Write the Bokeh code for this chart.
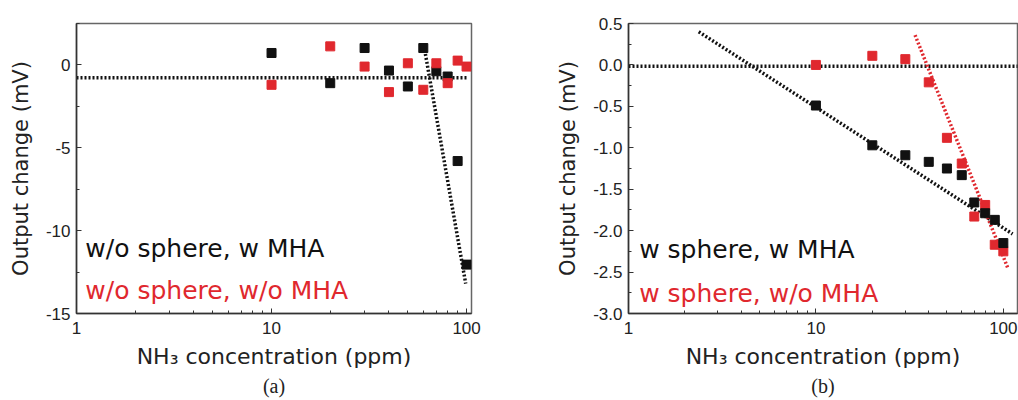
from bokeh.plotting import figure
from bokeh.layouts import row
from bokeh.models import FixedTicker, PrintfTickFormatter, Title, Label
from bokeh.embed import file_html
from bokeh.resources import INLINE

# ---------------- data ----------------
conc = [10, 20, 30, 40, 50, 60, 70, 80, 90, 100]

# panel (a)
a_black = [0.72, -1.10, 1.02, -0.34, -1.30, 1.02, -0.38, -0.70, -5.80, -12.05]
a_red = [-1.20, 1.12, -0.10, -1.64, 0.10, -1.50, 0.10, -1.10, 0.26, -0.10]
a_flat_x = [1, 100]
a_flat_y = [-0.78, -0.78]
a_fit_x = [61, 99]
a_fit_y = [0.9, -13.2]

# panel (b)
b_black = [-0.49, -0.97, -1.09, -1.17, -1.25, -1.33, -1.66, -1.79, -1.87, -2.15]
b_red = [0.00, 0.11, 0.07, -0.21, -0.88, -1.19, -1.83, -1.69, -2.17, -2.25]
b_flat_x = [1, 120]
b_flat_y = [-0.015, -0.015]
b_fit_black_x = [2.37, 112]
b_fit_black_y = [0.40, -2.04]
b_fit_red_x = [33.8, 105.6]
b_fit_red_y = [0.36, -2.45]

x_ticks = [1, 10, 100]
x_minor = [2, 3, 4, 5, 6, 7, 8, 9, 20, 30, 40, 50, 60, 70, 80, 90]
a_y_ticks = [-15, -10, -5, 0]
a_y_minor = [-12.5, -7.5, -2.5, 2.5]
b_y_ticks = [-3.0, -2.5, -2.0, -1.5, -1.0, -0.5, 0.0, 0.5]
b_y_minor = [-2.75, -2.25, -1.75, -1.25, -0.75, -0.25, 0.25]

BLACK = "#111111"
RED = "#e0282e"
LEG_FONT = "DejaVu Sans"
TICK_FONT = "Liberation Sans"


def make_fig(width, xr, yr, bl, br, yticks, yminor, yfmt):
    p = figure(width=width, height=400, x_axis_type="log", x_range=xr, y_range=yr,
               output_backend="svg", toolbar_location=None,
               min_border_left=bl, min_border_right=br, min_border_top=23,
               min_border_bottom=87)
    p.xgrid.visible = False
    p.ygrid.visible = False
    p.outline_line_color = "#666666"
    p.outline_line_width = 1.5
    p.background_fill_color = "white"
    p.border_fill_color = "white"
    p.xaxis.ticker = FixedTicker(ticks=x_ticks, minor_ticks=x_minor)
    p.xaxis.formatter = PrintfTickFormatter(format="%d")
    p.yaxis.ticker = FixedTicker(ticks=yticks, minor_ticks=yminor)
    p.yaxis.formatter = PrintfTickFormatter(format=yfmt)
    for ax in (p.xaxis, p.yaxis):
        ax.major_tick_in = 5
        ax.major_tick_out = 0
        ax.minor_tick_in = 3
        ax.minor_tick_out = 0
        ax.axis_line_color = "#333333"
        ax.axis_line_width = 1.5
        ax.major_tick_line_color = "#333333"
        ax.minor_tick_line_color = "#333333"
        ax.major_label_text_font = TICK_FONT
        ax.major_label_text_font_size = "17px"
        ax.major_label_text_color = "#222222"
        ax.axis_label_text_font = LEG_FONT
        ax.axis_label_text_font_style = "normal"
        ax.axis_label_text_color = "#222222"
    p.xaxis.major_label_standoff = 8
    p.yaxis.major_label_standoff = 6
    p.xaxis.axis_label = "NH₃ concentration (ppm)"
    p.xaxis.axis_label_text_font_size = "22px"
    p.xaxis.axis_label_standoff = 7
    p.yaxis.axis_label = "Output change (mV)"
    p.yaxis.axis_label_text_font_size = "21px"
    p.yaxis.axis_label_standoff = 10
    return p


# ---------------- panel (a) ----------------
pa = make_fig(509, (1, 106), (-15, 2.5), 76, 38, a_y_ticks, a_y_minor, "%d")
pa.line(a_flat_x, a_flat_y, line_color=BLACK, line_width=3.5, line_dash="2 2")
pa.line(a_fit_x, a_fit_y, line_color=BLACK, line_width=3.5, line_dash="2 2")
pa.scatter(conc, a_black, marker="square", size=9, color=BLACK)
pa.scatter(conc, a_red, marker="square", size=9, color=RED)
pa.add_layout(Label(x=1.11, y=-11.07, text="w/o sphere, w MHA", text_font=LEG_FONT,
                    text_font_size="25px", text_color=BLACK, text_baseline="middle"))
pa.add_layout(Label(x=1.11, y=-13.6, text="w/o sphere, w/o MHA", text_font=LEG_FONT,
                    text_font_size="25px", text_color=RED, text_baseline="middle"))
pa.add_layout(Title(text="(a)", align="center", text_font="Liberation Serif",
                    text_font_size="20px", text_font_style="normal", standoff=3,
                    text_color="#222222"), "below")

# ---------------- panel (b) ----------------
pb = make_fig(509, (1, 119), (-3.0, 0.5), 119, 1, b_y_ticks, b_y_minor, "%.1f")
pb.line(b_flat_x, b_flat_y, line_color=BLACK, line_width=3.5, line_dash="2 2")
pb.line(b_fit_black_x, b_fit_black_y, line_color=BLACK, line_width=3.5, line_dash="2 2")
pb.line(b_fit_red_x, b_fit_red_y, line_color=RED, line_width=3.5, line_dash="2 2")
pb.scatter(conc, b_red, marker="square", size=9, color=RED)
pb.scatter(conc, b_black, marker="square", size=9, color=BLACK)
pb.add_layout(Label(x=1.14, y=-2.23, text="w sphere, w MHA", text_font=LEG_FONT,
                    text_font_size="25px", text_color=BLACK, text_baseline="middle"))
pb.add_layout(Label(x=1.14, y=-2.76, text="w sphere, w/o MHA", text_font=LEG_FONT,
                    text_font_size="25px", text_color=RED, text_baseline="middle"))
pb.add_layout(Title(text="(b)", align="center", text_font="Liberation Serif",
                    text_font_size="20px", text_font_style="normal", standoff=3,
                    text_color="#222222"), "below")

layout = row(pa, pb)
open("out.html", "w").write(file_html(layout, INLINE))
